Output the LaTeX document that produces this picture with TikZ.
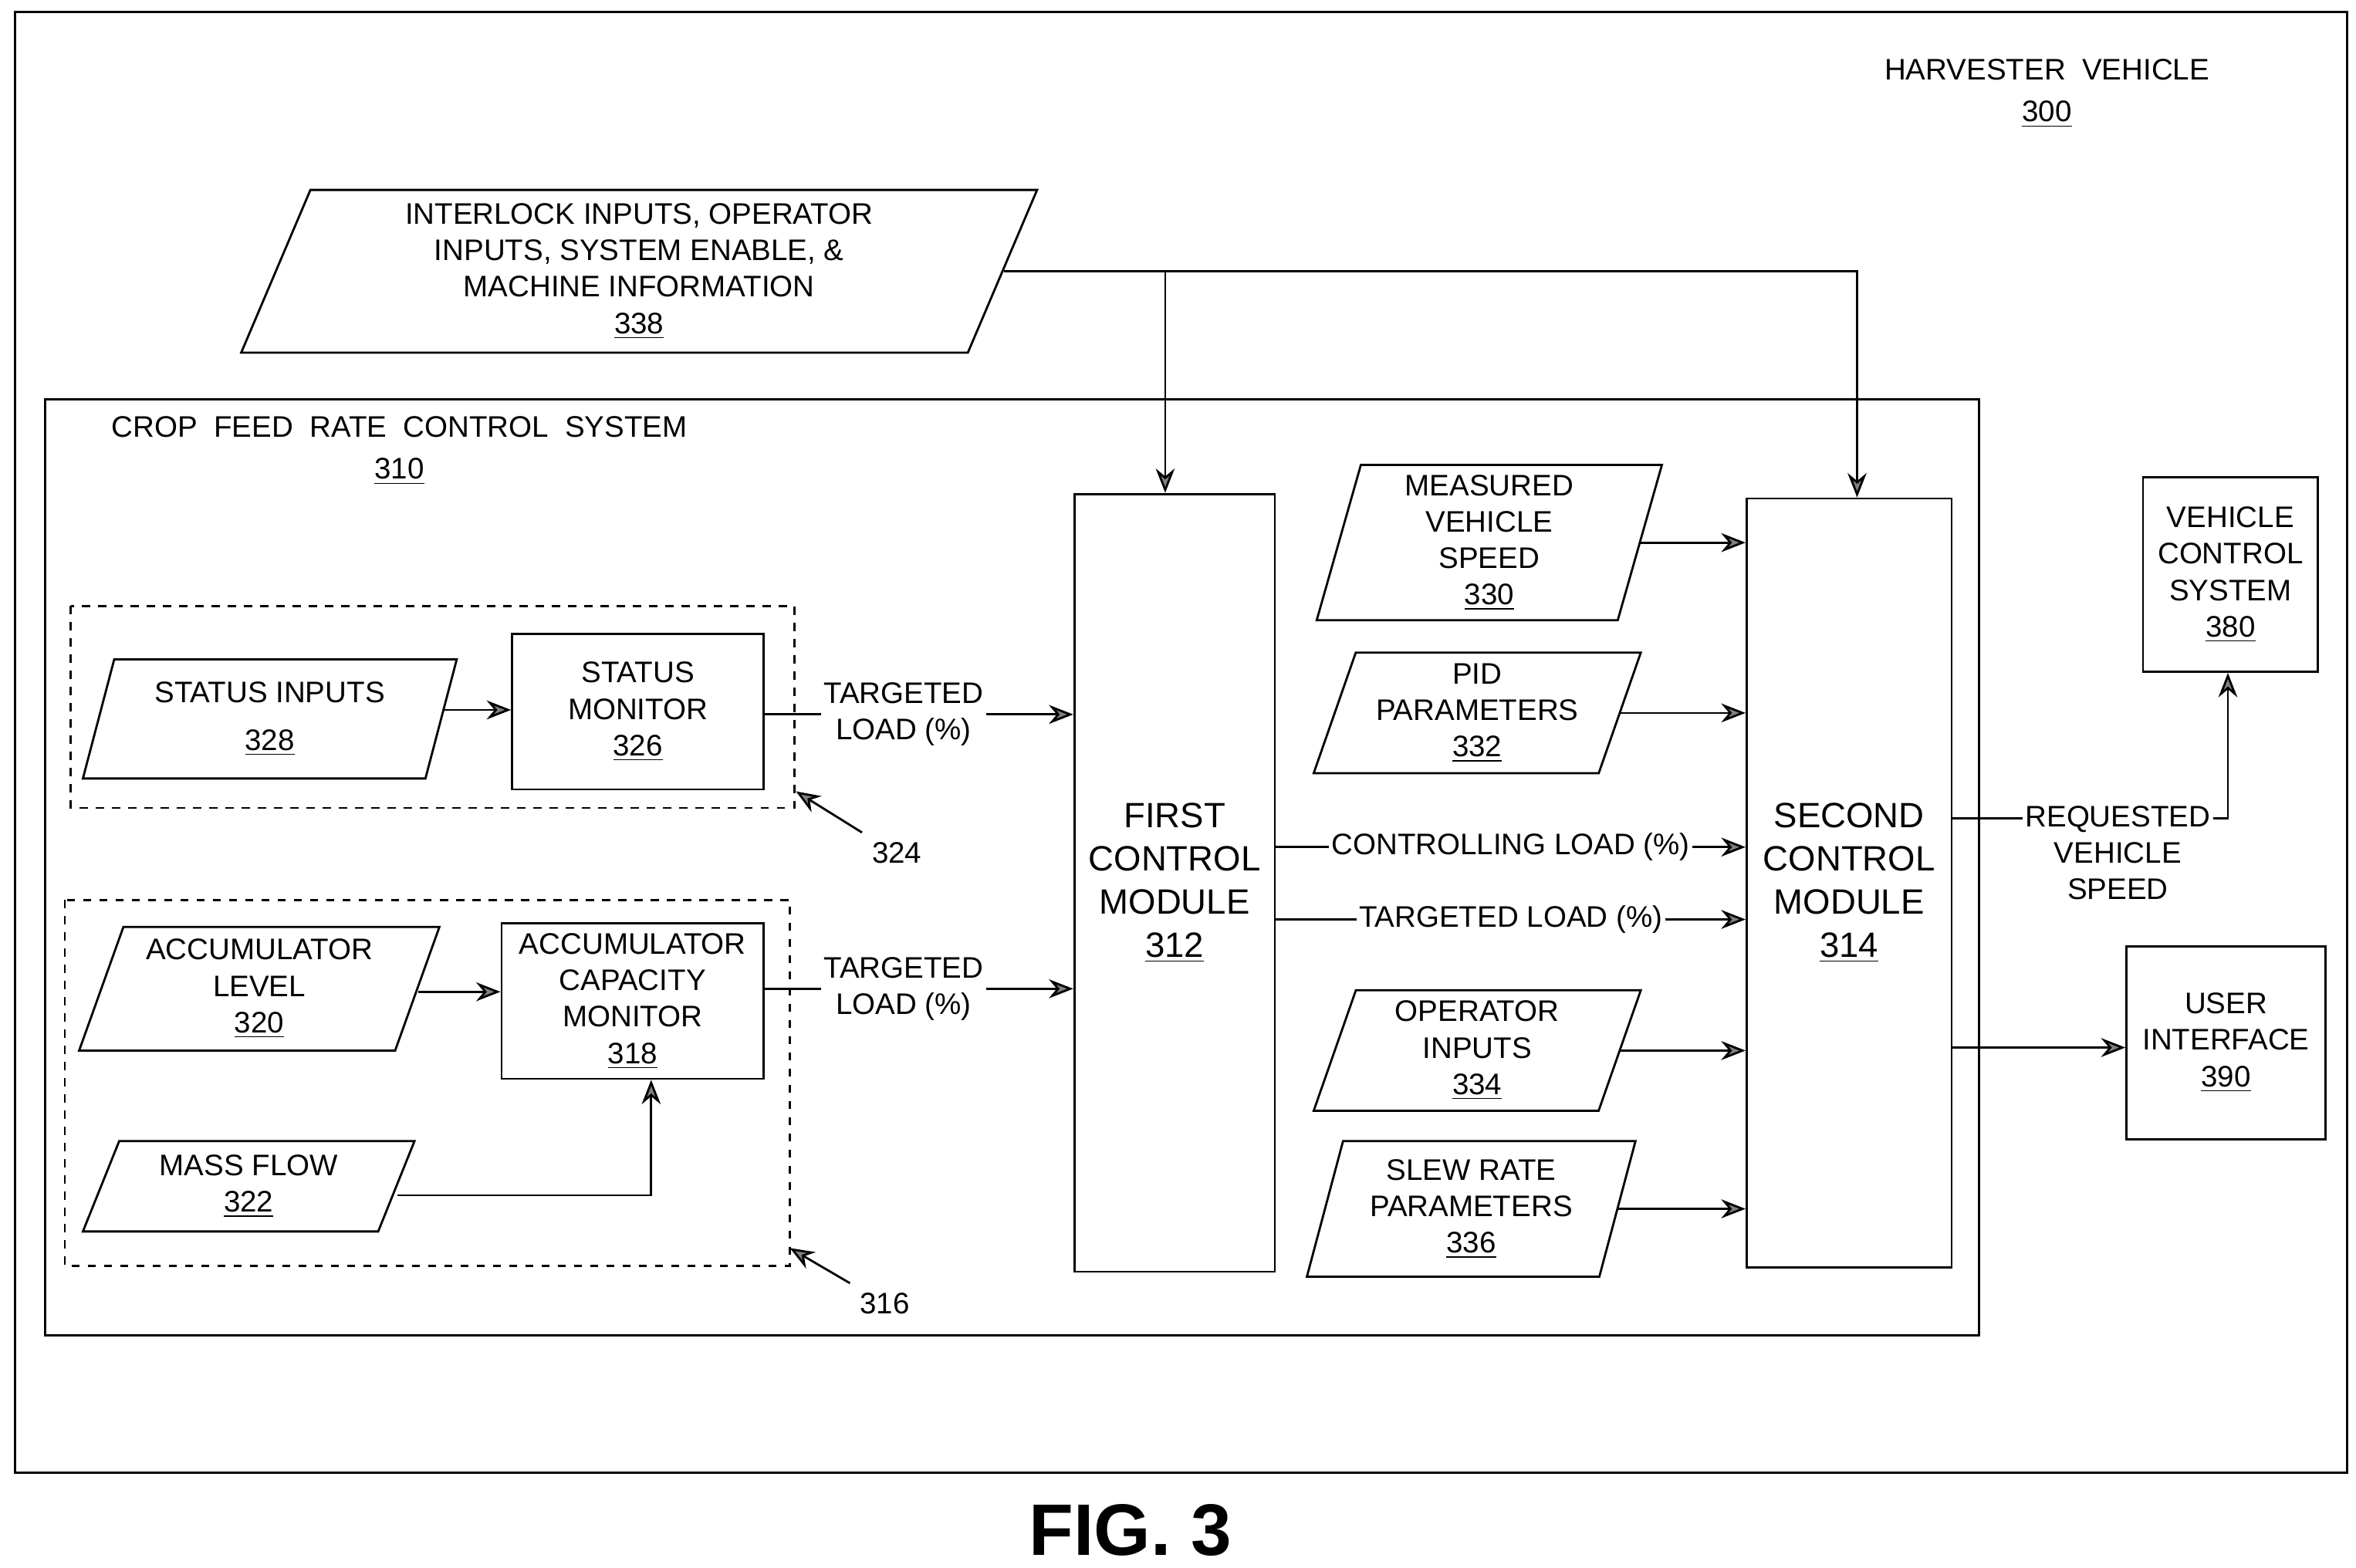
\documentclass[tikz,border=0pt]{standalone}
\usepackage{fontspec}
\setmainfont{Liberation Sans}
\usetikzlibrary{shapes.geometric,arrows.meta,positioning}
\newcommand\px[1]{#1*0.0196cm}

\begin{document}
\begin{tikzpicture}
[x=0.0196cm, y=-0.0196cm, line width=0.8pt, font=\fontsize{11}{13.5}\selectfont,
  mybox/.style={draw, align=center, anchor=north west, inner sep=0pt},
  mypara/.style={trapezium, draw, align=center, trapezium left angle=#1, trapezium right angle=180-#1, trapezium stretches body, inner sep=0pt},
  myarrow/.style={-{Stealth[length=9pt,width=7pt,fill=gray]}},
  mylabel/.style={fill=white, inner sep=1pt, align=center}
]
  \useasboundingbox (0,0) rectangle (1563,1040);
  \draw (10,8) rectangle (1557,977);
  \node[align=center] (title) at (1358,62) {HARVESTER\ \ VEHICLE\\[2pt]\underline{300}};
  \node[font=\bfseries\fontsize{27}{30}\selectfont] (fig) at (750,1015) {FIG. 3};

  % crop feed rate control system
  \draw (30,265) rectangle (1313,886);
  \node[align=center] (crop) at (265,299) {CROP\ \ FEED\ \ RATE\ \ CONTROL\ \ SYSTEM\\[2pt]\underline{310}};
  \draw[dashed] (47,402) rectangle (527,536);
  \draw[dashed] (43,597) rectangle (524,840);

  \node[mypara=63, minimum width=\px{528}, minimum height=\px{108}] (interlock) at (424,180)
    {INTERLOCK INPUTS, OPERATOR\\INPUTS, SYSTEM ENABLE, \&\\MACHINE INFORMATION\\\underline{338}};

  \node[mypara=67, minimum width=\px{248}, minimum height=\px{79}] (statin) at (179,477) {STATUS INPUTS\\[4pt]\underline{328}};
  \node[mybox, minimum width=\px{167}, minimum height=\px{103}] (statmon) at (339,420) {STATUS\\MONITOR\\\underline{326}};
  \node[mypara=66, minimum width=\px{239}, minimum height=\px{82}] (acclev) at (172,656) {ACCUMULATOR\\LEVEL\\\underline{320}};
  \node[mybox, minimum width=\px{174}, minimum height=\px{103}] (accmon) at (332,612) {ACCUMULATOR\\CAPACITY\\MONITOR\\\underline{318}};
  \node[mypara=60, minimum width=\px{220}, minimum height=\px{60}] (mass) at (165,787) {MASS FLOW\\\underline{322}};

  \node[mybox, minimum width=\px{133}, minimum height=\px{516}, font=\fontsize{13}{16}\selectfont] (first) at (712,327) {FIRST\\CONTROL\\MODULE\\\underline{312}};
  \node[mybox, minimum width=\px{136}, minimum height=\px{510}, font=\fontsize{13}{16}\selectfont] (second) at (1158,330) {SECOND\\CONTROL\\MODULE\\\underline{314}};

  \node[mypara=72, minimum width=\px{229}, minimum height=\px{103}] (speed) at (988,360) {MEASURED\\VEHICLE\\SPEED\\\underline{330}};
  \node[mypara=67, minimum width=\px{217}, minimum height=\px{80}] (pid) at (980,473) {PID\\PARAMETERS\\\underline{332}};
  \node[mypara=67, minimum width=\px{217}, minimum height=\px{80}] (opin) at (980,697) {OPERATOR\\INPUTS\\\underline{334}};
  \node[mypara=70, minimum width=\px{218}, minimum height=\px{90}] (slew) at (976,802) {SLEW RATE\\PARAMETERS\\\underline{336}};

  \node[mybox, minimum width=\px{116}, minimum height=\px{129}] (vcs) at (1421,316) {VEHICLE\\CONTROL\\SYSTEM\\\underline{380}};
  \node[mybox, minimum width=\px{132}, minimum height=\px{128}] (ui) at (1410,627) {USER\\INTERFACE\\\underline{390}};

  \node (n324) at (595,566) {324};
  \node (n316) at (587,865) {316};

  % connectors
  \draw[myarrow] (interlock.east) -| (first.north -| 773,0);
  \draw[myarrow] (interlock.east) -| (second.north -| 1232,0);
  \draw[myarrow] (statin.east |- 0,471) -- (statmon.west |- 0,471);
  \draw[myarrow] (statmon.east |- 0,474) -- node[mylabel, pos=0.45] {TARGETED\\LOAD (\%)} (first.west |- 0,474);
  \draw[myarrow] (acclev.east |- 0,658) -- (accmon.west |- 0,658);
  \draw[myarrow] (accmon.east |- 0,656) -- node[mylabel, pos=0.45] {TARGETED\\LOAD (\%)} (first.west |- 0,656);
  \draw[myarrow] (mass.east |- 0,793) -| (accmon.south -| 432,0);
  \draw[myarrow] (first.east |- 0,562) -- node[mylabel] {CONTROLLING LOAD (\%)} (second.west |- 0,562);
  \draw[myarrow] (first.east |- 0,610) -- node[mylabel] {TARGETED LOAD (\%)} (second.west |- 0,610);
  \draw[myarrow] (speed.east) -- (second.west |- speed.east);
  \draw[myarrow] (pid.east) -- (second.west |- pid.east);
  \draw[myarrow] (opin.east) -- (second.west |- opin.east);
  \draw[myarrow] (slew.east) -- (second.west |- slew.east);
  \draw[myarrow] (second.east |- 0,543) -| node[mylabel, pos=0.3, below=-6pt] {REQUESTED\\VEHICLE\\SPEED} (vcs.south -| 1478,0);
  \draw[myarrow] (second.east |- 0,695) -- (ui.west |- 0,695);
  \draw[myarrow] (n324.north west) -- (528,525);
  \draw[myarrow] (n316.north west) -- (524,828);
\end{tikzpicture}
\end{document}
